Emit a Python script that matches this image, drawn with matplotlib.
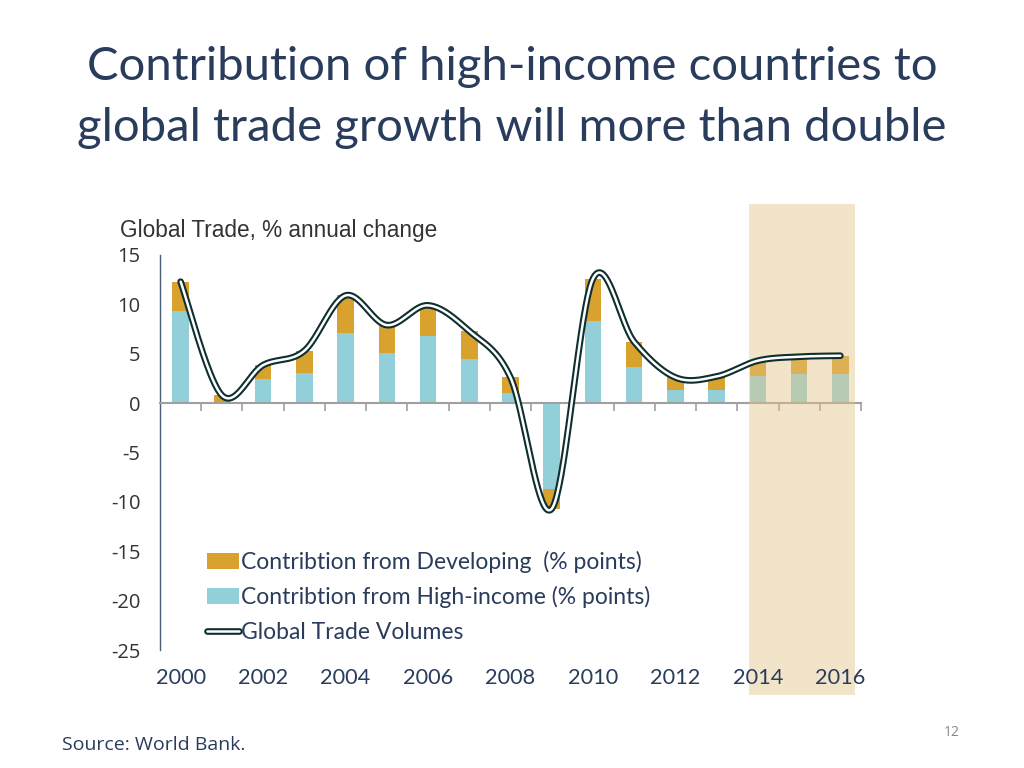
import numpy as np
import matplotlib
matplotlib.use("Agg")
import matplotlib.pyplot as plt
from matplotlib.patches import Rectangle, Patch
from matplotlib.lines import Line2D
from matplotlib.legend_handler import HandlerTuple
import matplotlib.transforms as mtransforms

years = list(range(2000, 2017))
high_income = [9.35, 0.1, 2.4, 3.1, 7.1, 5.1, 6.8, 4.5, 1.0, -8.65, 8.3, 3.7, 1.3, 1.3, 2.7, 2.9, 3.0]
developing = [2.95, 0.7, 1.45, 2.2, 3.8, 2.8, 3.1, 2.8, 1.6, -2.05, 4.3, 2.5, 1.3, 1.4, 1.6, 1.8, 1.8]
global_trade = [12.3, 0.8, 3.85, 5.3, 10.9, 7.9, 9.9, 7.3, 2.6, -10.7, 12.6, 6.2, 2.6, 2.7, 4.3, 4.7, 4.8]
year_labels = ["2000", "2002", "2004", "2006", "2008", "2010", "2012", "2014", "2016"]
y_ticks = [15, 10, 5, 0, -5, -10, -15, -20, -25]

GOLD = "#D9A12E"
BLUE = "#93CFD9"
NAVY = "#2A3C5C"


def smooth(xs, ys, n=40):
    pts = np.column_stack([xs, ys]).astype(float)
    P = np.vstack([pts[0], pts, pts[-1]])
    out = []
    t = np.linspace(0, 1, n)[:, None]
    for i in range(len(pts) - 1):
        p0, p1, p2, p3 = P[i], P[i + 1], P[i + 2], P[i + 3]
        c1 = p1 + (p2 - p0) / 6
        c2 = p2 - (p3 - p1) / 6
        seg = (1 - t) ** 3 * p1 + 3 * (1 - t) ** 2 * t * c1 + 3 * (1 - t) * t ** 2 * c2 + t ** 3 * p2
        out.append(seg)
    return np.vstack(out)


fig = plt.figure(figsize=(10.24, 7.68), dpi=100)
ax = fig.add_axes([160 / 1024, 1 - 650 / 768, 701 / 1024, 395 / 768])

x = np.arange(len(years))
hi = np.array(high_income)
dev = np.array(developing)
ax.bar(x, hi, width=0.4, color=BLUE, zorder=2)
ax.bar(x, dev, width=0.4, bottom=hi, color=GOLD, zorder=2)

# shaded forecast region (figure coords)
shade = Rectangle((749 / 1024, 1 - 695 / 768), 106 / 1024, 491 / 768,
                  transform=fig.transFigure, facecolor="#E3C486", alpha=0.45,
                  edgecolor="none", zorder=3, clip_on=False)
ax.add_patch(shade)

curve = smooth(x, global_trade)
ax.plot(curve[:, 0], curve[:, 1], color="#0F2E30", lw=4.8, solid_capstyle="round", zorder=4)
ax.plot(curve[:, 0], curve[:, 1], color="white", lw=1.8, solid_capstyle="round", zorder=5)

ax.set_xlim(-0.5, len(years) - 0.5)
ax.set_ylim(-25, 15)

for s in ["top", "right"]:
    ax.spines[s].set_visible(False)
ax.spines["left"].set_color("#4A5F7A")
ax.spines["left"].set_linewidth(1.0)
ax.spines["bottom"].set_position(("data", 0))
ax.spines["bottom"].set_color("#A0A0A0")
ax.spines["bottom"].set_linewidth(1.5)
ax.spines["bottom"].set_zorder(2.5)

ax.set_xticks(np.arange(0.5, len(years) + 0.5, 1.0))
ax.set_xticklabels([])
ax.tick_params(axis="x", direction="out", length=6, color="#A0A0A0", width=1.2)
ax.set_yticks(y_ticks)
ax.set_yticklabels([str(v) for v in y_ticks], fontsize=14.5,
                   color="#333333", family="Open Sans")
ax.tick_params(axis="y", length=0, pad=14)

trans = mtransforms.blended_transform_factory(ax.transData, fig.transFigure)
for i, lab in enumerate(year_labels):
    ax.text(2 * i, 1 - 678 / 768, lab, transform=trans, ha="center", va="center",
            fontsize=15.7, color=NAVY, family="Lato")

# legend
dev_h = Patch(facecolor=GOLD, edgecolor="none")
hi_h = Patch(facecolor=BLUE, edgecolor="none")
l_out = Line2D([], [], color="#0F2E30", lw=4.8, solid_capstyle="round")
l_in = Line2D([], [], color="white", lw=1.8, solid_capstyle="round")
leg = ax.legend([dev_h, hi_h, (l_out, l_in)],
                ["Contribtion from Developing  (% points)",
                 "Contribtion from High-income (% points)",
                 "Global Trade Volumes"],
                handler_map={tuple: HandlerTuple(ndivide=1)},
                loc="upper left", bbox_to_anchor=(207 / 1024, 1 - 551 / 768),
                bbox_transform=fig.transFigure, frameon=False,
                prop={"family": "Lato", "size": 16.5}, labelcolor=NAVY,
                handlelength=1.4, handleheight=0.7, handletextpad=0.1,
                labelspacing=0.58, borderaxespad=0, borderpad=0)
leg.set_zorder(6)

fig.text(0.5, 1 - 67 / 768, "Contribution of high-income countries to", ha="center",
         va="center", fontsize=34, color=NAVY, family="Lato")
fig.text(0.5, 1 - 128 / 768, "global trade growth will more than double", ha="center",
         va="center", fontsize=34, color=NAVY, family="Lato")
fig.text(120 / 1024, 1 - 231 / 768, "Global Trade, % annual change", ha="left",
         va="center", fontsize=16.3, color="#333333", family="Liberation Sans")
fig.text(62 / 1024, 1 - 745 / 768, "Source: World Bank.", ha="left", va="center",
         fontsize=14, color=NAVY, family="Open Sans")
fig.text(952 / 1024, 1 - 733 / 768, "12", ha="center", va="center",
         fontsize=10, color="#8A8A8A", family="Open Sans")

fig.savefig("out.png", dpi=100)
